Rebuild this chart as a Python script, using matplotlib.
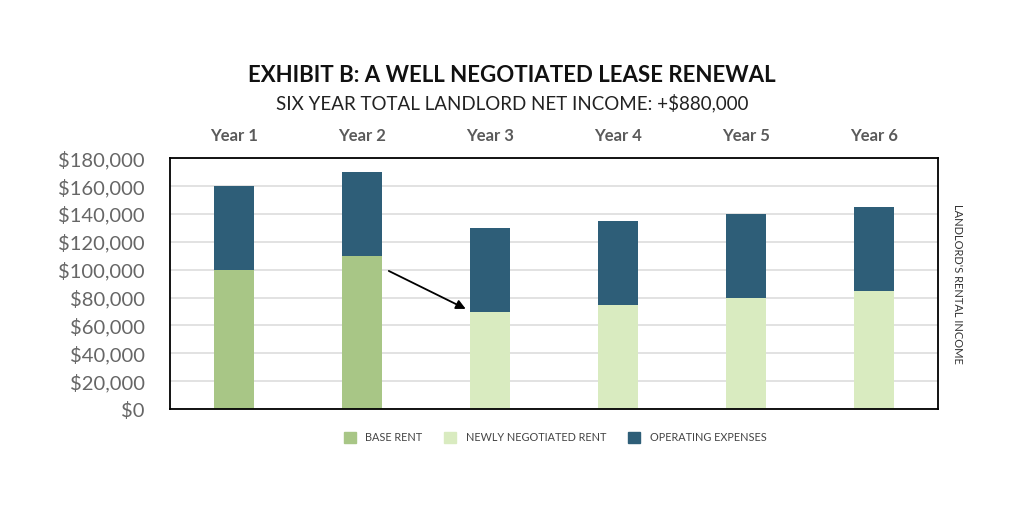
import numpy as np
import matplotlib.pyplot as plt
from matplotlib.patches import Patch
from matplotlib.ticker import FuncFormatter

# ---- Data ------------------------------------------------------------
years = ['Year 1', 'Year 2', 'Year 3', 'Year 4', 'Year 5', 'Year 6']
base_rent = [100000, 110000, 0, 0, 0, 0]
new_rent = [0, 0, 70000, 75000, 80000, 85000]
operating_expenses = [60000, 60000, 60000, 60000, 60000, 60000]

C_BASE = '#a8c686'
C_NEW = '#d9ebc0'
C_OPEX = '#2e5e78'
TXT = '#5a5a5a'

plt.rcParams['font.family'] = ['Lato', 'DejaVu Sans']

fig = plt.figure(figsize=(10.24, 5.12), dpi=100)
ax = fig.add_axes([0.166, 0.201, 0.750, 0.490])

x = np.arange(len(years))
w = 0.31
ax.bar(x, base_rent, w, color=C_BASE, zorder=2)
ax.bar(x, new_rent, w, bottom=base_rent, color=C_NEW, zorder=2)
bottom = np.array(base_rent) + np.array(new_rent)
ax.bar(x, operating_expenses, w, bottom=bottom, color=C_OPEX, zorder=2)

ax.set_xlim(-0.5, len(years) - 0.5)
ax.set_ylim(0, 180000)
ax.set_yticks(np.arange(0, 180001, 20000))
ax.yaxis.set_major_formatter(FuncFormatter(lambda v, p: f'${v:,.0f}'))
ax.tick_params(axis='y', length=0, labelsize=14.5, labelcolor='#666666', pad=18)
ax.grid(axis='y', color='#dddddd', linewidth=1.2, zorder=0)

ax.xaxis.tick_top()
ax.set_xticks(x)
ax.set_xticklabels(years, fontweight='bold', fontsize=12, color=TXT)
ax.tick_params(axis='x', length=0, pad=10)

for s in ax.spines.values():
    s.set_color('black')
    s.set_linewidth(1.3)

# Arrow from year 2 base rent to year 3 newly negotiated rent
ax.annotate('', xy=(1.83, 71000), xytext=(1.19, 100000),
            arrowprops=dict(arrowstyle='-|>', color='black', lw=1.3,
                            mutation_scale=14), zorder=3)

ax.text(1.025, 0.5, "LANDLORD'S RENTAL INCOME", transform=ax.transAxes,
        rotation=-90, ha='center', va='center', fontsize=8, color='#333333')

fig.text(0.5, 0.852, 'EXHIBIT B: A WELL NEGOTIATED LEASE RENEWAL',
         ha='center', va='center', fontsize=16, fontweight='bold',
         color='#111111')
fig.text(0.5, 0.799, 'SIX YEAR TOTAL LANDLORD NET INCOME: +$880,000',
         ha='center', va='center', fontsize=13.5, color='#222222')

handles = [Patch(color=C_BASE, label='BASE RENT'),
           Patch(color=C_NEW, label='NEWLY NEGOTIATED RENT'),
           Patch(color=C_OPEX, label='OPERATING EXPENSES')]
fig.legend(handles=handles, loc='center', bbox_to_anchor=(0.542, 0.145),
           ncol=3, frameon=False, fontsize=7.8, handlelength=1.1,
           handleheight=1.1, columnspacing=2.0, handletextpad=0.9,
           labelcolor='#444444')

fig.savefig('out.png', dpi=100, facecolor='white')
